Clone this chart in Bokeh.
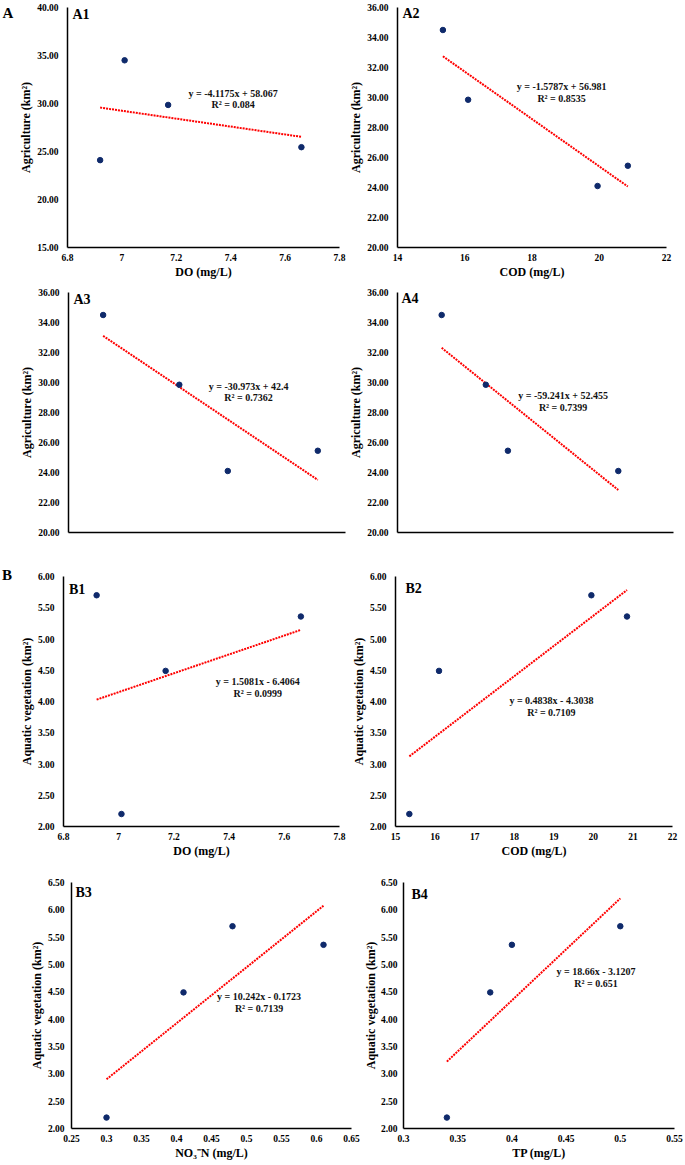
from bokeh.plotting import figure
from bokeh.layouts import column, row
from bokeh.models import Range1d, FixedTicker, Label, Div
from bokeh.embed import file_html
from bokeh.resources import INLINE

# ---------------- data (4 sampling sites) ----------------
do_vals = [6.92, 7.01, 7.17, 7.66]
cod_vals = [19.95, 15.35, 16.10, 20.85]
no3_vals = [0.48, 0.30, 0.41, 0.61]
tp_vals = [0.50, 0.34, 0.38, 0.40]
agriculture = [24.10, 34.50, 29.85, 25.45]
aquatic_veg = [5.70, 2.20, 4.49, 5.36]

# trendline coefficients as printed on the chart
slopes = [-4.1175, -1.5787, -30.973, -59.241, 1.5081, 0.4838, 10.242, 18.66]
intercepts = [58.067, 56.981, 42.4, 52.455, -6.4064, -4.3038, -0.1723, -3.1207]
eq_texts = ["y = -4.1175x + 58.067", "y = -1.5787x + 56.981", "y = -30.973x + 42.4",
            "y = -59.241x + 52.455", "y = 1.5081x - 6.4064", "y = 0.4838x - 4.3038",
            "y = 10.242x - 0.1723", "y = 18.66x - 3.1207"]
r2_texts = ["R\u00b2 = 0.084", "R\u00b2 = 0.8535", "R\u00b2 = 0.7362", "R\u00b2 = 0.7399",
            "R\u00b2 = 0.0999", "R\u00b2 = 0.7109", "R\u00b2 = 0.7139", "R\u00b2 = 0.651"]
tags = ["A1", "A2", "A3", "A4", "B1", "B2", "B3", "B4"]
group_labels = ["A", "B"]

# ticks
do_ticks = [6.8, 7.0, 7.2, 7.4, 7.6, 7.8]
do_labels = ["6.8", "7", "7.2", "7.4", "7.6", "7.8"]
cod_ticks_a = [14, 16, 18, 20, 22]
cod_labels_a = ["14", "16", "18", "20", "22"]
cod_ticks_b = [15, 16, 17, 18, 19, 20, 21, 22]
cod_labels_b = ["15", "16", "17", "18", "19", "20", "21", "22"]
no3_ticks = [0.25, 0.30, 0.35, 0.40, 0.45, 0.50, 0.55, 0.60, 0.65]
no3_labels = ["0.25", "0.3", "0.35", "0.4", "0.45", "0.5", "0.55", "0.6", "0.65"]
tp_ticks = [0.30, 0.35, 0.40, 0.45, 0.50, 0.55]
tp_labels = ["0.3", "0.35", "0.4", "0.45", "0.5", "0.55"]
agri_ticks_1 = [15, 20, 25, 30, 35, 40]
agri_ticks_2 = [20, 22, 24, 26, 28, 30, 32, 34, 36]
aqua_ticks_1 = [2.0, 2.5, 3.0, 3.5, 4.0, 4.5, 5.0, 5.5, 6.0]
aqua_ticks_2 = [2.0, 2.5, 3.0, 3.5, 4.0, 4.5, 5.0, 5.5, 6.0, 6.5]

FONT = "Liberation Serif"
NAVY = "#0f2a6b"
RED = "#ff0000"


def panel(i, xs, ys, xr, yr, xticks, xlabels, yticks, xtitle, ytitle,
          eq_pos, tag_off, size, borders, ylab_standoff=9, ytitle_standoff=1):
    w, h = size
    bl, br, bt, bb = borders
    p = figure(width=w, height=h, x_range=Range1d(*xr), y_range=Range1d(*yr),
               title=None, output_backend="svg", toolbar_location=None,
               min_border_left=bl, min_border_right=br,
               min_border_top=bt, min_border_bottom=bb)
    p.outline_line_color = None
    p.grid.visible = False
    p.background_fill_color = "white"
    p.border_fill_color = "white"

    for ax in (p.xaxis[0], p.yaxis[0]):
        ax.axis_line_color = "black"
        ax.axis_line_width = 1.5
        ax.major_tick_line_color = None
        ax.minor_tick_line_color = None
        ax.major_tick_out = 0
        ax.major_tick_in = 0
        ax.minor_tick_out = 0
        ax.minor_tick_in = 0
        ax.major_label_text_font = FONT
        ax.major_label_text_font_style = "bold"
        ax.major_label_text_font_size = "9.5px"
        ax.major_label_text_color = "black"
        ax.axis_label_text_font = FONT
        ax.axis_label_text_font_style = "bold"
        ax.axis_label_text_font_size = "12px"
        ax.axis_label_text_color = "black"

    p.yaxis.ticker = FixedTicker(ticks=yticks)
    p.yaxis.major_label_overrides = {t: f"{t:.2f}" for t in yticks}
    p.yaxis.axis_label = ytitle
    p.yaxis.major_label_standoff = ylab_standoff
    p.yaxis.axis_label_standoff = ytitle_standoff

    if xticks:
        p.xaxis.ticker = FixedTicker(ticks=xticks)
        p.xaxis.major_label_overrides = dict(zip(xticks, xlabels))
        p.xaxis.major_label_standoff = 6
    else:
        p.xaxis.ticker = FixedTicker(ticks=[])
    if xtitle:
        p.xaxis.axis_label = xtitle
        p.xaxis.axis_label_standoff = 1

    # trendline over the data range
    x0, x1 = min(xs), max(xs)
    p.line([x0, x1], [slopes[i] * x0 + intercepts[i], slopes[i] * x1 + intercepts[i]],
           line_color=RED, line_width=2, line_dash="2 1")
    # points
    p.scatter(xs, ys, size=5.5, fill_color=NAVY, line_color=NAVY)

    # equation text
    ex, ey1, ey2 = eq_pos
    for txt, yy in ((eq_texts[i], ey1), (r2_texts[i], ey2)):
        p.add_layout(Label(x=ex, y=yy, text=txt, text_align="center", text_baseline="middle",
                           text_font=FONT, text_font_style="bold", text_font_size="10px",
                           text_color="#111111"))
    # panel tag
    dx, dy = tag_off
    p.add_layout(Label(x=xr[0], y=yr[1], x_offset=dx, y_offset=-dy, text=tags[i],
                       text_align="left", text_baseline="top", text_font=FONT,
                       text_font_style="bold", text_font_size="14px", text_color="black"))
    return p


def strip_label(text, w, h, dx, dy):
    # group letter drawn as a Label inside a narrow empty figure
    s = figure(width=w, height=h, x_range=Range1d(0, 1), y_range=Range1d(0, 1),
               title=None, x_axis_type=None, y_axis_type=None, output_backend="svg",
               toolbar_location=None, min_border_left=0, min_border_right=0,
               min_border_top=0, min_border_bottom=0)
    s.outline_line_color = None
    s.grid.visible = False
    s.add_layout(Label(x=0, y=1, x_offset=dx, y_offset=-dy, text=text, text_align="left",
                       text_baseline="top", text_font=FONT, text_font_style="bold",
                       text_font_size="15px", text_color="black"))
    return s


def strip_div(text, w, h, dx, dy):
    html = (f'<div style="font-family:\'{FONT}\';font-weight:bold;font-size:15px;'
            f'line-height:15px;color:black;margin:{dy}px 0 0 {dx}px;padding:0;">{text}</div>')
    return Div(text=html, width=w, height=h, margin=(0, 0, 0, 0))


AG = "Agriculture (km\u00b2)"
AQ = "Aquatic vegetation (km\u00b2)"

sA = strip_label(group_labels[0], 16, 283, 2, -3)
a1 = panel(0, do_vals, agriculture, (6.8, 7.8), (15, 40), do_ticks, do_labels, agri_ticks_1,
           "DO (mg/L)", AG, (7.409, 31.04, 29.88), (5, -1), (330, 283), (47, 7, 6, 36))
a2 = panel(1, cod_vals, agriculture, (14, 22), (20, 36), cod_ticks_a, cod_labels_a, agri_ticks_2,
           "COD (mg/L)", AG, (18.88, 30.71, 29.96), (5, -1.5), (338, 283), (46, 18, 7, 36))

a3 = panel(2, no3_vals, agriculture, (0.25, 0.65), (20, 36), None, None, agri_ticks_2,
           None, AG, (0.510, 29.75, 29.0), (5, -1), (346, 285), (68, 1, 7, 36))
a4 = panel(3, tp_vals, agriculture, (0.3, 0.55), (20, 36), None, None, agri_ticks_2,
           None, AG, (0.45, 29.11, 28.33), (4, -1.5), (338, 285), (47, 11, 9, 36))

sB = strip_div(group_labels[1], 16, 294, 2, 0)
b1 = panel(4, do_vals, aquatic_veg, (6.8, 7.8), (2, 6), do_ticks, do_labels, aqua_ticks_1,
           "DO (mg/L)", AQ, (7.504, 4.327, 4.135), (5.5, 5), (330, 294), (47, 7, 7, 36))
b2 = panel(5, cod_vals, aquatic_veg, (15, 22), (2, 6), cod_ticks_b, cod_labels_b, aqua_ticks_1,
           "COD (mg/L)", AQ, (18.94, 4.011, 3.831), (10, 4), (338, 294), (49, 12, 8, 35))

b3 = panel(6, no3_vals, aquatic_veg, (0.25, 0.65), (2, 6.5), no3_ticks, no3_labels, aqua_ticks_2,
           "NO\u2083\u207bN (mg/L)", AQ, (0.518, 4.416, 4.199), (4, 2), (360, 302), (71, 9, 20, 33),
           ylab_standoff=7)
b4 = panel(7, tp_vals, aquatic_veg, (0.3, 0.55), (2, 6.5), tp_ticks, tp_labels, aqua_ticks_2,
           "TP (mg/L)", AQ, (0.4776, 4.864, 4.651), (8, 4.5), (324, 302), (38, 10, 18, 36),
           ylab_standoff=6, ytitle_standoff=0)

layout = column(row(sA, a1, a2), row(a3, a4), row(sB, b1, b2), row(b3, b4))

open("out.html", "w").write(file_html(layout, INLINE))
